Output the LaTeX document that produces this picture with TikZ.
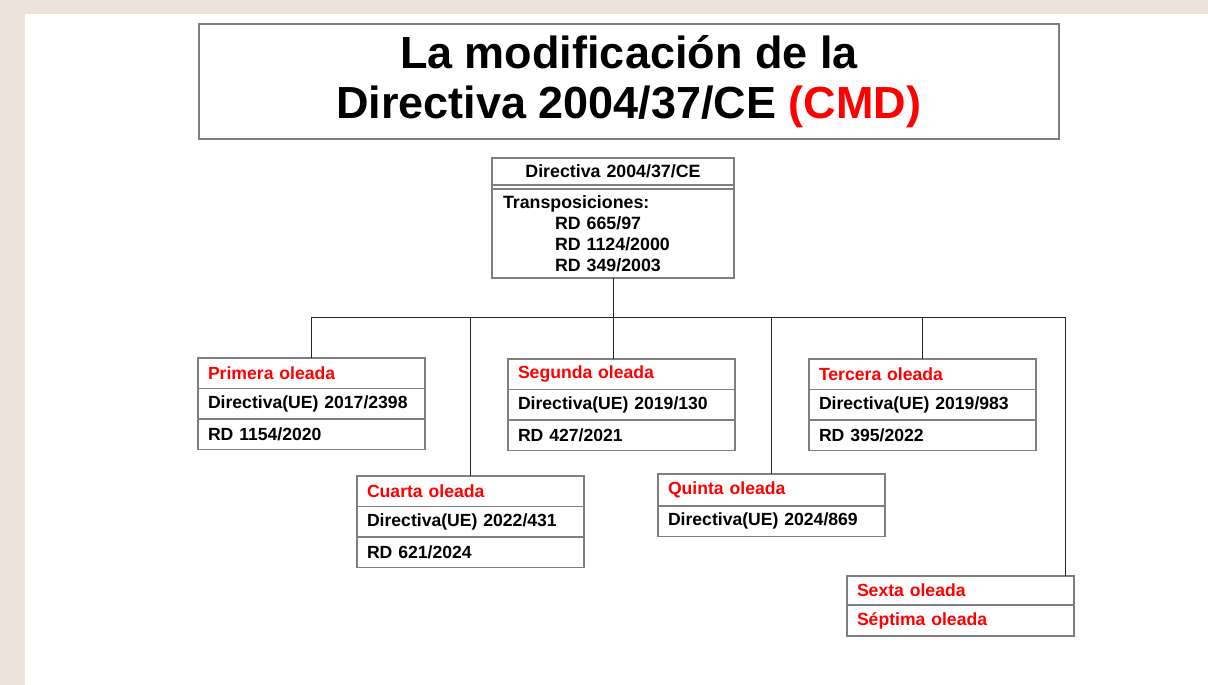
\documentclass[tikz,border=0pt]{standalone}
\usepackage{fontspec}
\setmainfont{Liberation Sans}
\usetikzlibrary{positioning}
\definecolor{slidebg}{HTML}{ECE3DD}
\definecolor{boxgray}{HTML}{7F7F7F}
\definecolor{wavered}{HTML}{FF0000}
\tikzset{
  row/.style={draw=boxgray, line width=1.2pt, outer sep=0pt, minimum height=30.5pt,
    inner xsep=10pt, inner ysep=0pt, text width=207pt, align=left,
    font=\fontsize{17.6}{19}\selectfont\bfseries},
  wave/.style={row, text=wavered},
  link/.style={draw=black!85, line width=0.8pt},
}
\begin{document}
\begin{tikzpicture}[x=1pt, y=-1pt]
  \useasboundingbox (0,0) rectangle (1208,685);
  \fill[slidebg] (0,0) rectangle (1208,685);
  \fill[white] (24.5,14.5) rectangle (1208,685);

  % title
  \node[draw=boxgray, line width=1.6pt, minimum width=860pt, minimum height=115pt,
        anchor=north west, align=center, font=\fontsize{45}{50}\selectfont\bfseries]
    (title) at (198,23) {La modificación de la\\Directiva 2004/37/CE {\color{wavered}(CMD)}};

  % directive
  \node[row, text width=222pt, minimum height=27pt, align=center, anchor=north west,
        font=\fontsize{17.8}{19}\selectfont\bfseries] (dir) at (492,158) {Directiva 2004/37/CE};
  \node[row, text width=220pt, inner xsep=11pt, minimum height=89pt, below=4pt of dir,
        font=\fontsize{17.8}{21}\selectfont\bfseries] (body)
    {Transposiciones:\\
     \hspace*{52pt}RD 665/97\\
     \hspace*{52pt}RD 1124/2000\\
     \hspace*{52pt}RD 349/2003};
  \draw[boxgray, line width=1.2pt] (dir.north west) rectangle (body.south east);

  % waves
  \node[wave, anchor=north west] (w1) at (198,358) {Primera oleada};
  \node[row, below=0pt of w1] (w1a) {Directiva(UE) 2017/2398};
  \node[row, below=0pt of w1a] (w1b) {RD 1154/2020};

  \node[wave, anchor=north west] (w2) at (508,359) {Segunda oleada};
  \node[row, below=0pt of w2] (w2a) {Directiva(UE) 2019/130};
  \node[row, below=0pt of w2a] (w2b) {RD 427/2021};

  \node[wave, anchor=north west] (w3) at (809,359) {Tercera oleada};
  \node[row, below=0pt of w3] (w3a) {Directiva(UE) 2019/983};
  \node[row, below=0pt of w3a] (w3b) {RD 395/2022};

  \node[wave, anchor=north west] (w4) at (357,476) {Cuarta oleada};
  \node[row, below=0pt of w4] (w4a) {Directiva(UE) 2022/431};
  \node[row, below=0pt of w4a] (w4b) {RD 621/2024};

  \node[wave, anchor=north west, minimum height=32pt] (w5) at (658,474) {Quinta oleada};
  \node[row, below=0pt of w5] (w5a) {Directiva(UE) 2024/869};

  \node[wave, anchor=north west, minimum height=29pt] (w6) at (847,576) {Sexta oleada};
  \node[wave, below=0pt of w6, minimum height=31pt] (w7) {Séptima oleada};

  % connectors
  \coordinate (bus) at (613,317);
  \coordinate (busR) at (1065,317);
  \draw[link] (body.south) -- (bus);
  \draw[link] (w1.north |- bus) -- (busR);
  \foreach \w in {w1,w3,w4,w5}
    \draw[link] (\w.north |- bus) -- (\w.north);
  \draw[link] (bus) -- (bus |- w2.north);
  \draw[link] (busR) -- (busR |- w6.north);
\end{tikzpicture}
\end{document}
